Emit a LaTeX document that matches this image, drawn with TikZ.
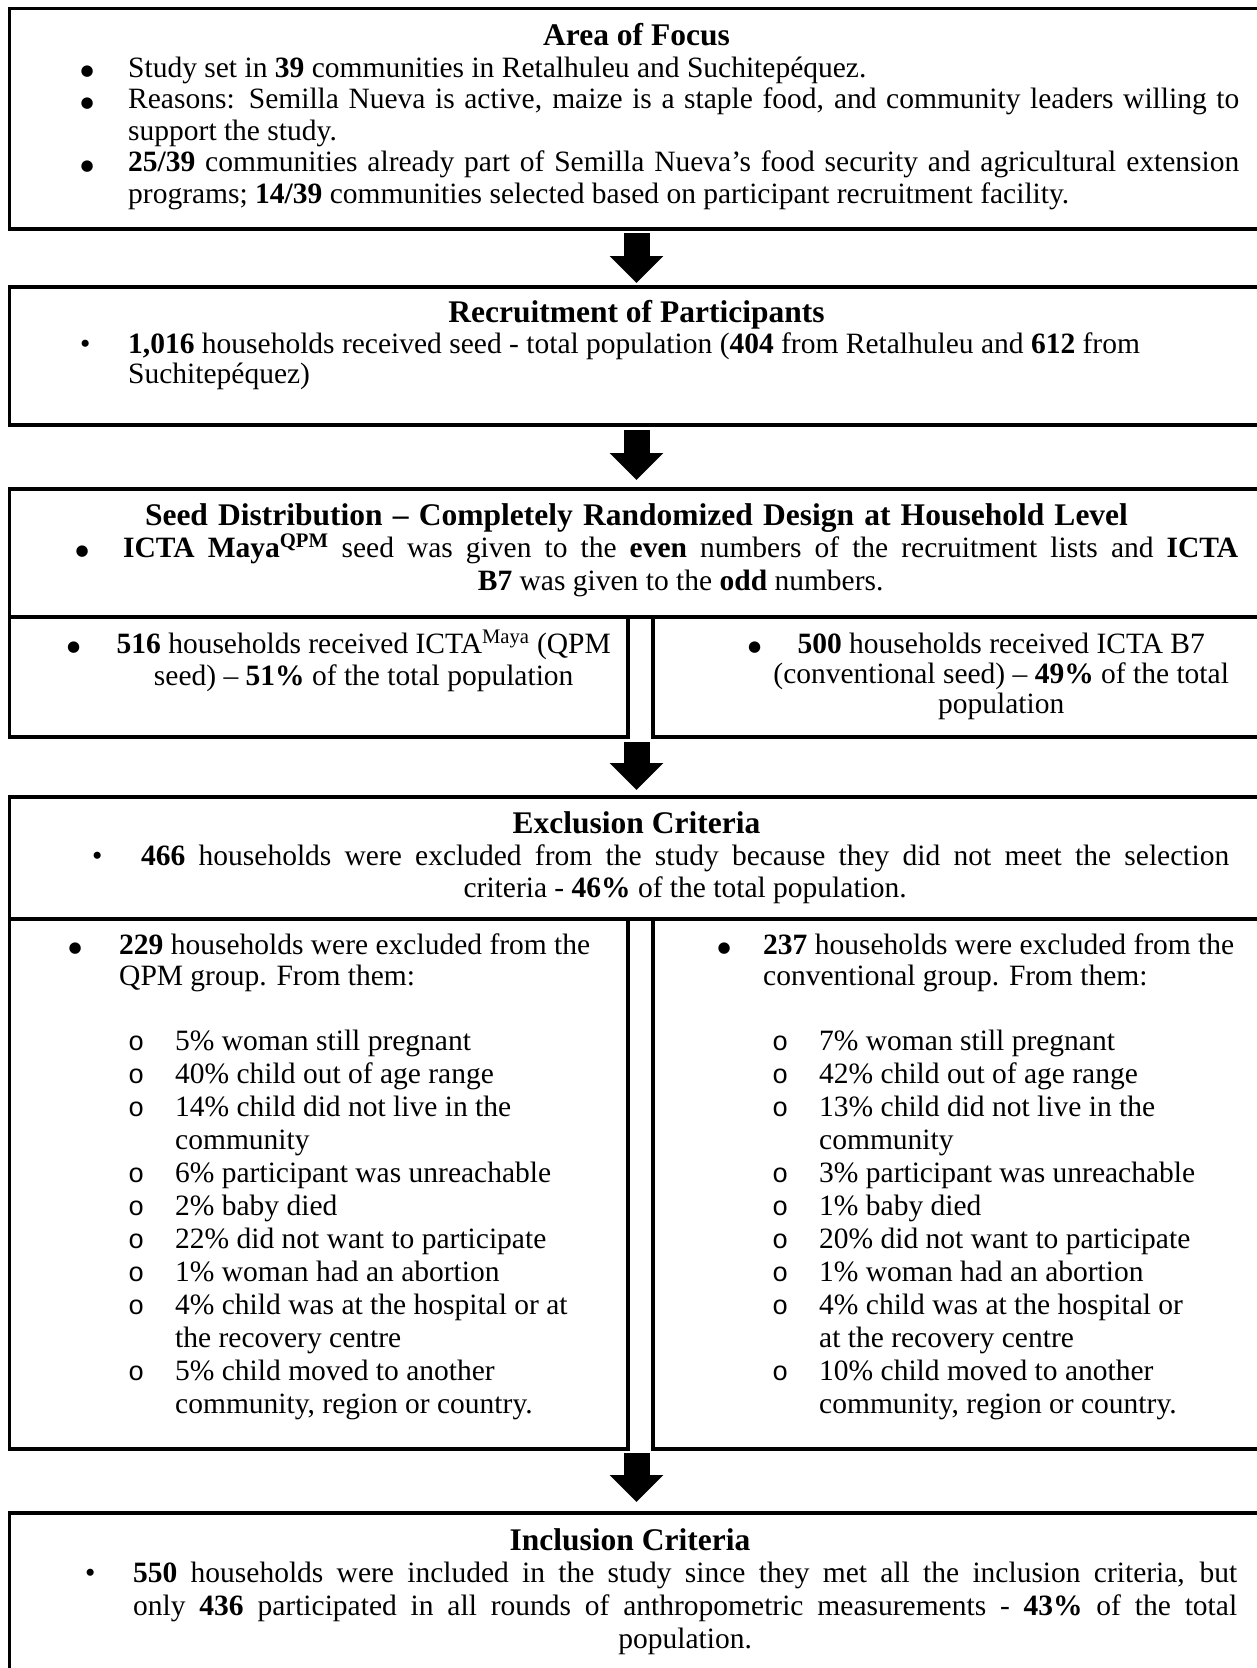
\documentclass[tikz,border=0pt]{standalone}
\usepackage{fontspec}
\setmainfont{Liberation Serif}
\newfontfamily\markfont{Liberation Mono}
\newfontfamily\dotfont{DejaVu Sans}
\usetikzlibrary{arrows.meta,calc}

\newcommand\bfnt{\fontsize{29.5}{32}\selectfont}
\newcommand\hfnt{\fontsize{31.5}{33}\selectfont\bfseries}
\newcommand\bigdot[1]{\llap{\makebox[0pt]{\raisebox{1.5pt}{\dotfont\fontsize{15}{15}\selectfont ●}}\hspace{#1}}}
\newcommand\smalldot[1]{\llap{\makebox[0pt]{\textbullet}\hspace{#1}}}
\newcommand\omark{\llap{\makebox[0pt]{\markfont\fontsize{27}{27}\selectfont o}\hspace{39pt}}}
\newcommand\oi{\par\noindent\omark}
\newcommand\txt[3]{\vtop{\hsize=#1\relax\parindent=0pt\parskip=0pt\tolerance=10000\hbadness=10000\bfnt\baselineskip=#2\relax #3\par}}
\newcommand\midlast{\leftskip=0pt plus .5fil\rightskip=0pt plus -.5fil\parfillskip=0pt plus 1fil\relax}

\tikzset{
  box/.style={draw, line width=3.6pt, inner sep=0pt, outer sep=0pt, anchor=north west},
  head/.style={anchor=base, inner sep=0pt, font=\hfnt},
  tx/.style={anchor=base west, inner sep=0pt},
  flow/.style={line width=26pt, -{Triangle[length=27pt,width=52pt]}}
}

\begin{document}
\begin{tikzpicture}[x=1pt,y=-1pt]
\useasboundingbox (0,0) rectangle (1257,1668);
\clip (0,0) rectangle (1257,1668);

% boxes
\node[box, minimum width=1254pt, minimum height=220.5pt] (b1) at (9.5,8.5) {};
\node[box, minimum width=1254pt, minimum height=138pt] (b2) at (9.5,287) {};
\node[box, minimum width=1254pt, minimum height=128pt] (b3) at (9.5,489) {};
\node[box, minimum width=618.5pt, minimum height=120pt] (b3l) at (9.5,617) {};
\node[box, minimum width=610pt, minimum height=120pt] (b3r) at (653,617) {};
\node[box, minimum width=1254pt, minimum height=122pt] (b4) at (9.5,797) {};
\node[box, minimum width=618.5pt, minimum height=530pt] (b4l) at (9.5,919) {};
\node[box, minimum width=610pt, minimum height=530pt] (b4r) at (653,919) {};
\node[box, minimum width=1254pt, minimum height=200pt] (b5) at (9.5,1513) {};

% headings
\node[head] (h1) at (636.5,45) {Area of Focus};
\node[head] (h2) at (636.5,322) {Recruitment of Participants};
\node[head] (h3) at (636.5,525) {\makebox[983pt][s]{Seed Distribution – Completely Randomized Design at Household Level}};
\node[head] (h4) at (636.5,833) {Exclusion Criteria};
\node[head] (h5) at (630,1550) {Inclusion Criteria};

% box 1
\node[tx] (t1) at (128,77) {\txt{1111pt}{31.5pt}{%
\noindent\bigdot{41pt}Study set in \textbf{39} communities in Retalhuleu and Suchitepéquez.\par
\noindent\bigdot{41pt}Reasons: Semilla Nueva is active, maize is a staple food, and community leaders willing to\linebreak support the study.\par
\noindent\bigdot{41pt}\textbf{25/39} communities already part of Semilla Nueva's food security and agricultural extension\linebreak programs; \textbf{14/39} communities selected based on participant recruitment facility.}};

% box 2
\node[tx] (t2) at (128,353) {\txt{1111pt}{30.5pt}{\raggedright\noindent\smalldot{43pt}\textbf{1,016} households received seed - total population (\textbf{404} from Retalhuleu and \textbf{612} from\\Suchitepéquez)}};

% box 3
\node[tx] (t3) at (123,557) {\txt{1115pt}{33pt}{\midlast\noindent\bigdot{41pt}\textbf{ICTA Maya}\textsuperscript{\textbf{QPM}} seed was given to the \textbf{even} numbers of the recruitment lists and \textbf{ICTA}\linebreak\textbf{B7} was given to the \textbf{odd} numbers.}};
\node[tx] (t3l) at (113.5,653) {\txt{500pt}{32pt}{\centering\noindent\bigdot{43pt}\textbf{516} households received ICTA\textsuperscript{Maya} (QPM\\seed) – \textbf{51\%} of the total population}};
\node[tx] (t3r) at (761,653) {\txt{480pt}{30pt}{\centering\noindent\bigdot{43pt}\textbf{500} households received ICTA B7\\(conventional seed) – \textbf{49\%} of the total\\population}};

% box 4
\node[tx] (t4) at (141,865) {\txt{1088pt}{32pt}{\midlast\noindent\smalldot{44pt}\textbf{466} households were excluded from the study because they did not meet the selection\linebreak criteria - \textbf{46\%} of the total population.}};
\node[tx] (t4l) at (119,954) {\txt{490pt}{31pt}{\raggedright\noindent\bigdot{44pt}\textbf{229} households were excluded from the\\QPM group. From them:}};
\node[tx] (l4l) at (175,1050) {\txt{440pt}{33pt}{\raggedright
\oi 5\% woman still pregnant
\oi 40\% child out of age range
\oi 14\% child did not live in the\\community
\oi 6\% participant was unreachable
\oi 2\% baby died
\oi 22\% did not want to participate
\oi 1\% woman had an abortion
\oi 4\% child was at the hospital or at\\the recovery centre
\oi 5\% child moved to another\\community, region or country.}};
\node[tx] (t4r) at (763,954) {\txt{480pt}{31pt}{\raggedright\noindent\bigdot{39pt}\textbf{237} households were excluded from the\\conventional group. From them:}};
\node[tx] (l4r) at (819,1050) {\txt{430pt}{33pt}{\raggedright
\oi 7\% woman still pregnant
\oi 42\% child out of age range
\oi 13\% child did not live in the\\community
\oi 3\% participant was unreachable
\oi 1\% baby died
\oi 20\% did not want to participate
\oi 1\% woman had an abortion
\oi 4\% child was at the hospital or\\at the recovery centre
\oi 10\% child moved to another\\community, region or country.}};

% box 5
\node[tx] (t5) at (133,1582) {\txt{1104pt}{33pt}{\midlast\noindent\smalldot{43pt}\textbf{550} households were included in the study since they met all the inclusion criteria, but\linebreak only \textbf{436} participated in all rounds of anthropometric measurements - \textbf{43\%} of the total\linebreak population.}};

% arrows
\draw[flow, shorten <=4pt, shorten >=4pt] (b1.south) -- (b2.north);
\draw[flow, shorten <=5pt, shorten >=9pt] (b2.south) -- (b3.north);
\draw[flow, shorten <=5pt, shorten >=7pt] (b3l.south -| b4.north) -- (b4.north);
\draw[flow, shorten <=4pt, shorten >=11pt] (b4l.south -| b5.north) -- (b5.north);
\end{tikzpicture}
\end{document}
